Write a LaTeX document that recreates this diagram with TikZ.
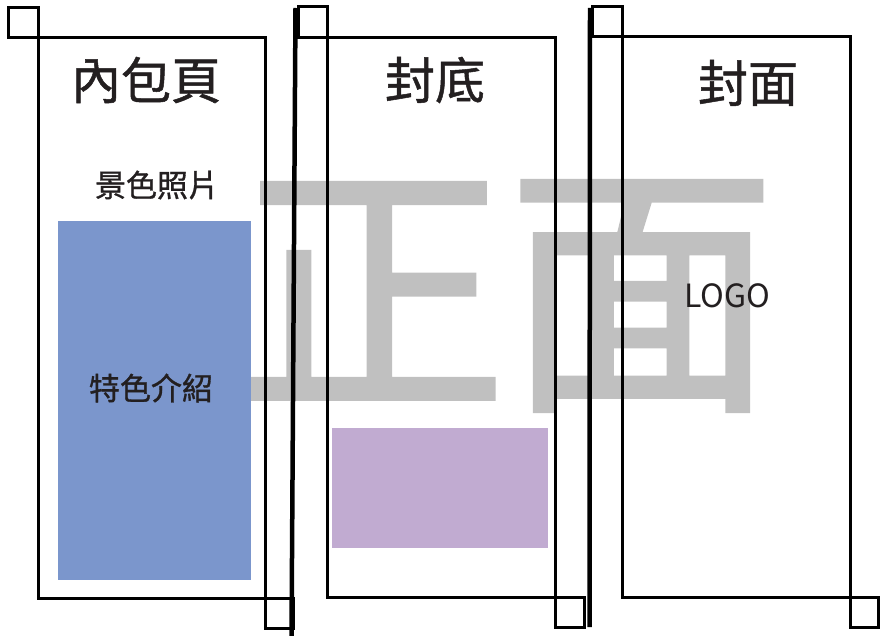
\documentclass[tikz,border=0pt]{standalone}
\usepackage{fontspec}
\setmainfont{Noto Sans CJK TC}
\newfontfamily\medfont[FakeBold=1]{Noto Sans CJK TC}
\newfontfamily\wmfont[FakeBold=1.6]{Noto Sans CJK TC}
\definecolor{wmgrey}{RGB}{192,192,192}
\definecolor{bluefill}{RGB}{123,150,204}
\definecolor{purplefill}{RGB}{193,171,209}
\definecolor{inkdark}{RGB}{35,31,32}
\begin{document}
\begin{tikzpicture}[x=1pt,y=-1pt,
  panel/.style={draw=black,line width=3pt},
  cornerbox/.style={draw=black,line width=3pt},
  foldline/.style={draw=black,line width=4.5pt},
  title/.style={font=\medfont\fontsize{50}{50}\selectfont,text=inkdark,inner sep=0pt},
  label/.style={font=\medfont\fontsize{31}{31}\selectfont,text=inkdark,inner sep=0pt}]
\useasboundingbox (0,0) rectangle (893,636);
% watermark
\node[text=wmgrey,font=\wmfont\fontsize{269}{269}\selectfont,inner sep=0pt] (wm) at (507,296) {正面};
% coloured areas
\fill[bluefill] (58,221) rectangle (251,580);
\fill[purplefill] (332,428) rectangle (548,548);
% panels
\draw[panel] (38,38) rectangle (265,598);
\draw[panel] (327,38) rectangle (555,597);
\draw[panel] (622,37) rectangle (850,597);
% corner marks
\draw[cornerbox] (8,8) rectangle (38,38);
\draw[cornerbox] (265,598) rectangle (293,628);
\draw[cornerbox] (298,7) rectangle (327,38);
\draw[cornerbox] (555,597) rectangle (584,627);
\draw[cornerbox] (592,7) rectangle (622,37);
\draw[cornerbox] (850,597) rectangle (878,627);
% fold lines
\draw[foldline] (295.5,8) -- (291.5,636);
\draw[foldline] (590,8) -- (589.5,627);
% texts
\node[title] (t1) at (146,80) {內包頁};
\node[title] (t2) at (435,80) {封底};
\node[title] (t3) at (748,83) {封面};
\node[label] (l1) at (157,185) {景色照片};
\node[label] (l2) at (151,388) {特色介紹};
\node[font=\fontsize{32}{32}\selectfont,text=inkdark,inner sep=0pt] (logo) at (727,296) {LOGO};
\end{tikzpicture}
\end{document}
